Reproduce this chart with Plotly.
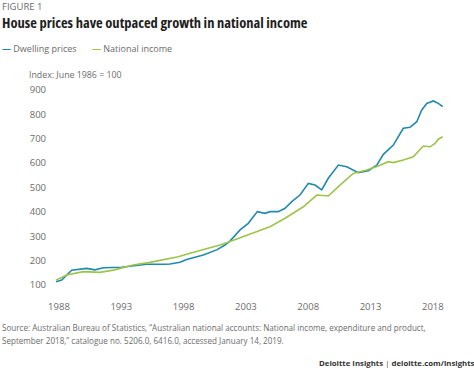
import plotly.graph_objects as go

# ---- data ----
dwelling_years = [1987.76, 1988.22, 1989.02, 1990.22, 1990.89, 1991.56, 1993.03, 1993.83,
                  1995.04, 1996.51, 1996.91, 1997.71, 1998.25, 1999.58, 2000.66, 2001.32,
                  2001.72, 2002.53, 2003.19, 2003.92, 2004.53, 2004.93, 2005.60, 2006.14,
                  2006.68, 2007.34, 2008.01, 2008.55, 2009.08, 2009.61, 2010.42, 2011.09,
                  2012.02, 2012.82, 2013.50, 2014.03, 2014.57, 2014.83, 2015.63, 2016.17,
                  2016.71, 2017.11, 2017.51, 2018.04, 2018.44, 2018.79]
dwelling_values = [113, 120, 161, 168, 162, 171, 173, 179,
                   185, 185, 186, 193, 205, 223, 244, 264,
                   280, 326, 353, 401, 394, 401, 401, 415,
                   442, 469, 517, 510, 490, 538, 592, 585,
                   561, 569, 592, 636, 661, 674, 743, 747,
                   770, 818, 845, 855, 845, 832]

income_years = [1987.76, 1988.62, 1989.95, 1991.29, 1992.36, 1993.96, 1995.30, 1996.37,
                1997.57, 1998.51, 1999.58, 2000.92, 2001.72, 2002.79, 2003.99, 2004.93,
                2006.14, 2006.54, 2007.34, 2007.61, 2008.68, 2009.61, 2010.55, 2011.62,
                2012.69, 2013.63, 2014.43, 2014.83, 2015.63, 2016.43, 2017.24, 2017.78,
                2018.18, 2018.44, 2018.79]
income_values = [120, 141, 155, 152, 161, 182, 193, 203,
                 216, 230, 244, 264, 278, 298, 319, 339,
                 374, 387, 415, 421, 469, 465, 510, 558,
                 572, 588, 606, 602, 613, 626, 670, 667,
                 681, 698, 708]

x_ticks = [1988, 1993, 1998, 2003, 2008, 2013, 2018]
y_ticks = [100, 200, 300, 400, 500, 600, 700, 800, 900]

series_names = ["Dwelling prices", "National income"]
colors = ["#2189ad", "#9cc44a"]

# ---- layout geometry (pixels) ----
W, H = 474, 371
L, R, T, B = 47, 14, 85, 76
pw, ph = W - L - R, H - T - B


def px(x):
    return (x - L) / pw


def py(y):
    return 1 - (y - T) / ph


fig = go.Figure()
fig.add_trace(go.Scatter(x=dwelling_years, y=dwelling_values, mode="lines",
                         name=series_names[0], line=dict(color=colors[0], width=1.6)))
fig.add_trace(go.Scatter(x=income_years, y=income_values, mode="lines",
                         name=series_names[1], line=dict(color=colors[1], width=1.6)))

gray = "#6b6b6b"
font_main = "Open Sans, Liberation Sans, sans-serif"

annotations = [
    dict(text="FIGURE 1", x=px(0), y=py(6), font=dict(size=9.5, color=gray, family=font_main)),
    dict(text="<span style='font-stretch:75%'><b>House prices have outpaced growth in national income</b></span>",
         x=px(0), y=py(23),
         font=dict(size=14.5, color="#1e1e1e", family="Open Sans, sans-serif")),
    dict(text=f"<span style='color:{colors[0]}'><b>—</b></span> {series_names[0]}", x=px(0), y=py(49),
         font=dict(size=9, color=gray, family=font_main)),
    dict(text=f"<span style='color:{colors[1]}'><b>—</b></span> {series_names[1]}", x=px(90), y=py(49),
         font=dict(size=9, color=gray, family=font_main)),
    dict(text="Index: June 1986 = 100", x=px(27), y=py(75),
         font=dict(size=8.8, color=gray, family=font_main)),
    dict(text="Source: Australian Bureau of Statistics, “Australian national accounts: National income, expenditure and product,",
         x=px(0), y=py(327), font=dict(size=8.1, color=gray, family=font_main)),
    dict(text="September 2018,” catalogue no. 5206.0, 6416.0, accessed January 14, 2019.",
         x=px(0), y=py(340), font=dict(size=8.1, color=gray, family=font_main)),
]
for a in annotations:
    a.update(xref="paper", yref="paper", xanchor="left", yanchor="middle", showarrow=False, align="left")

annotations.append(dict(text="<b>Deloitte Insights</b> | <b>deloitte.com/insights</b>",
                        x=px(477), y=py(363), xref="paper", yref="paper", xanchor="right",
                        yanchor="middle", showarrow=False,
                        font=dict(size=7.8, color="#333333", family=font_main)))

fig.update_layout(
    width=W, height=H,
    margin=dict(l=L, r=R, t=T, b=B),
    paper_bgcolor="white", plot_bgcolor="white",
    showlegend=False,
    annotations=annotations,
    font=dict(family=font_main, color=gray, size=9.5),
    xaxis=dict(range=[1987.04, 2020.18], tickmode="array", tickvals=x_ticks,
               ticktext=[str(t) for t in x_ticks], showgrid=False, zeroline=False,
               showline=False, ticks="", ticklabelstandoff=4,
               tickfont=dict(size=9.5, color=gray)),
    yaxis=dict(range=[59, 920.5], tickmode="array", tickvals=y_ticks,
               ticktext=[str(t) for t in y_ticks], showgrid=False, zeroline=False,
               showline=False, ticks="", tickfont=dict(size=9.5, color=gray)),
)

fig.write_html("out.html", config={"displayModeBar": False},
               post_script="document.body.style.margin='0';")
